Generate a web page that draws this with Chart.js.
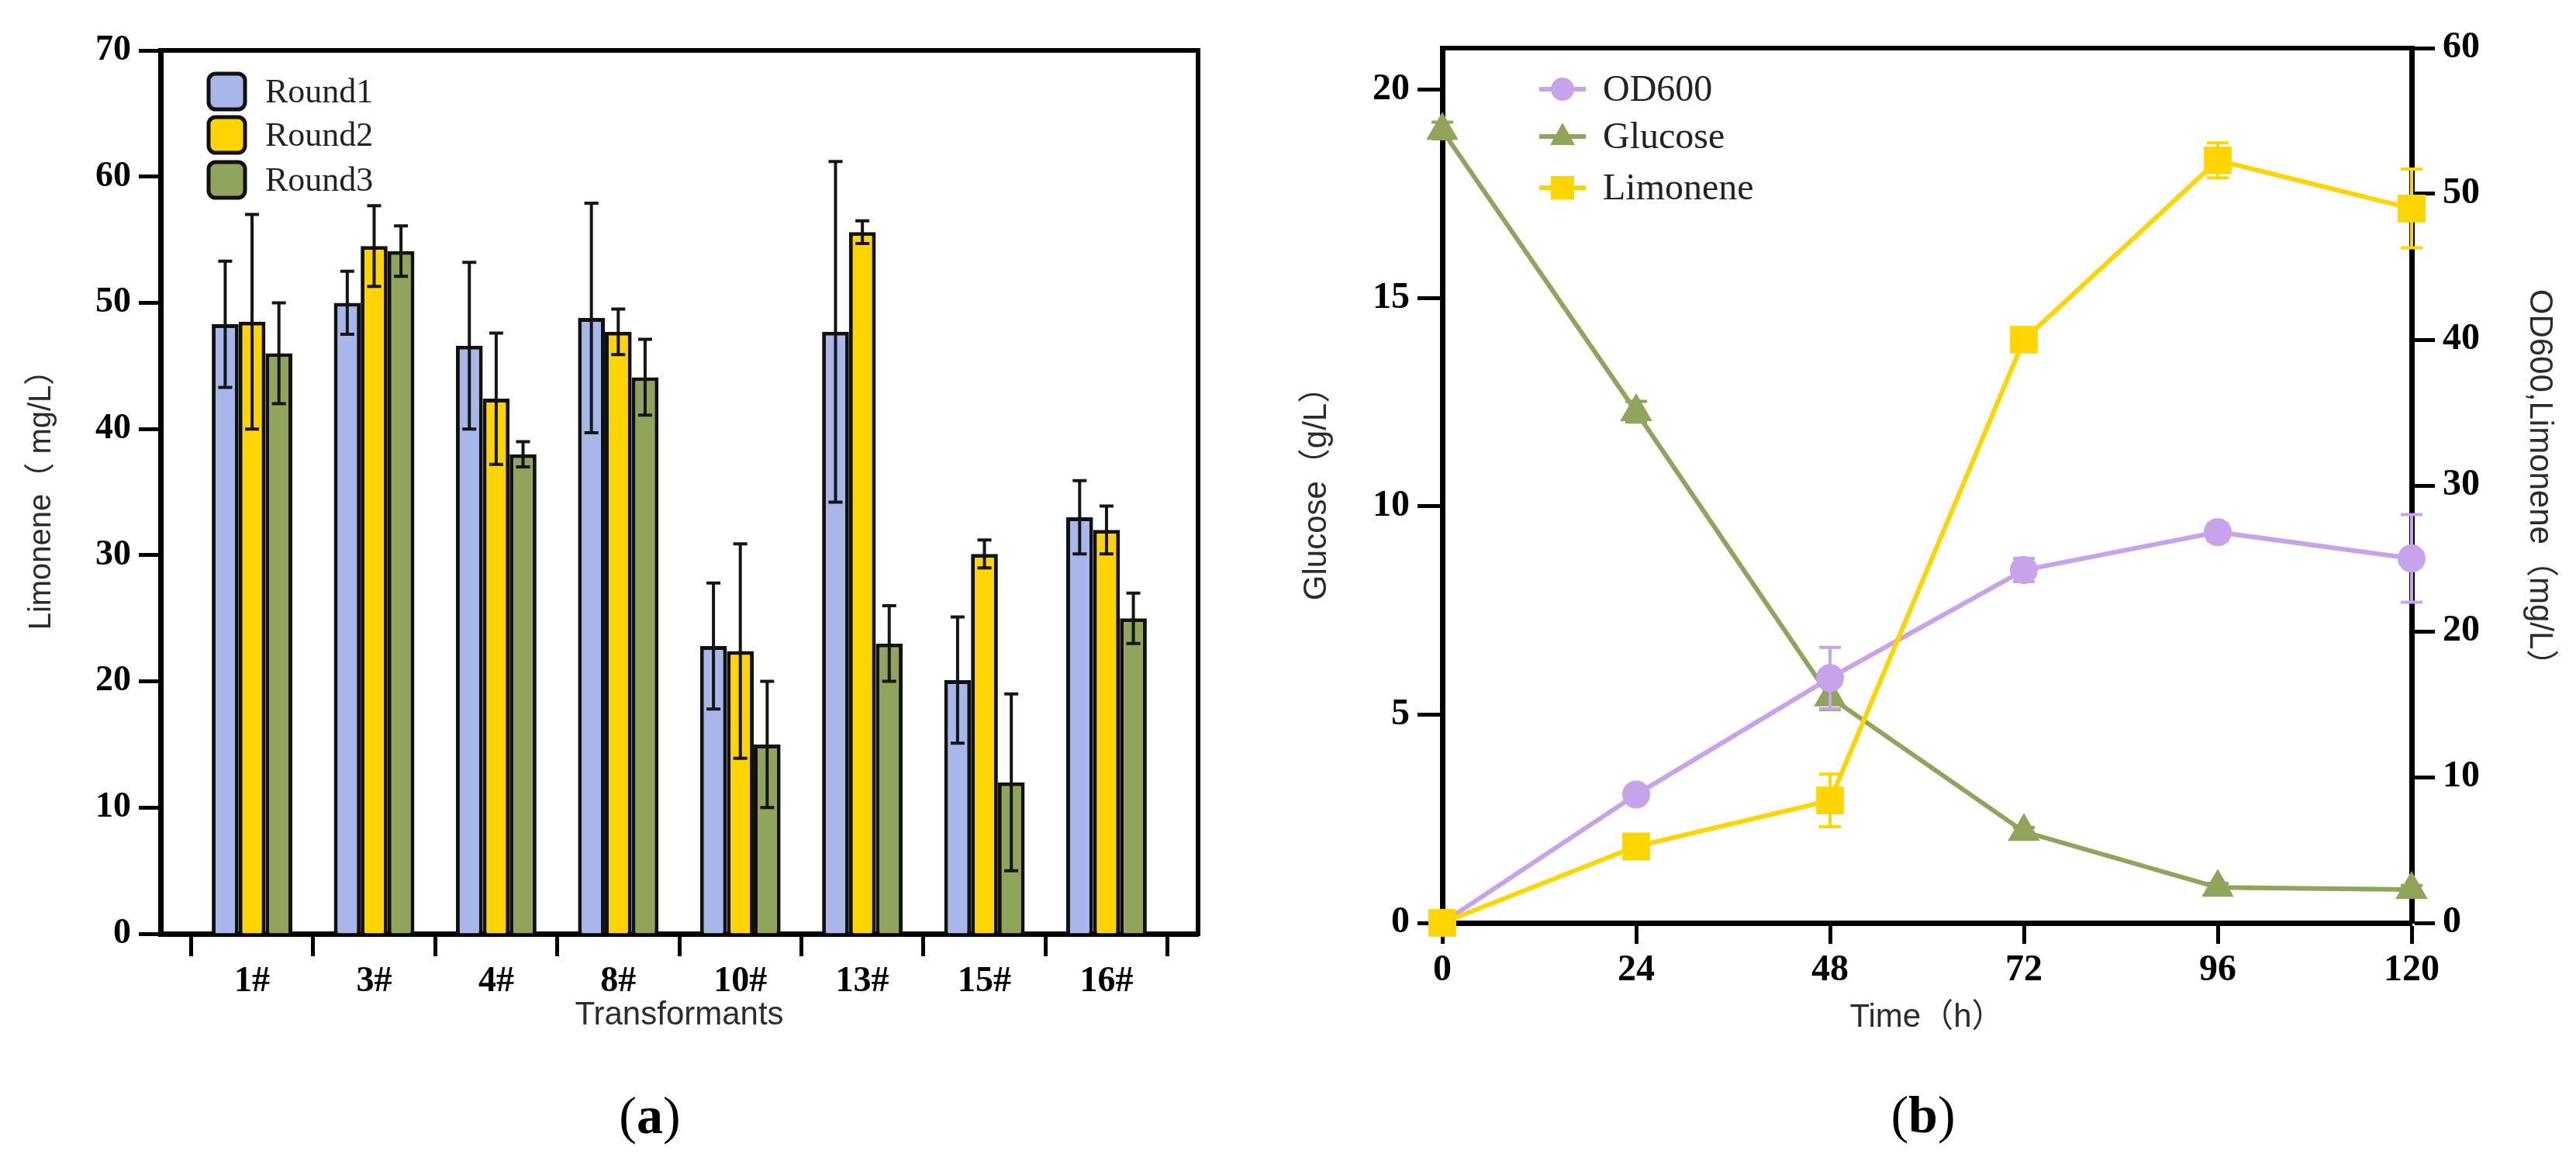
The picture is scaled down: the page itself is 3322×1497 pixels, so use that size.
<!DOCTYPE html>
<html><head><meta charset="utf-8">
<script src="https://cdn.jsdelivr.net/npm/chart.js@4.4.0/dist/chart.umd.min.js"></script>
<style>
html,body{margin:0;padding:0;background:#fff;width:3322px;height:1497px;overflow:hidden;position:relative}
canvas{position:absolute;top:0}
#c1{left:0}
#c2{left:1600px}
.lab{position:absolute;font-family:'Liberation Serif','Times New Roman',serif;font-size:68px;color:#000;transform:translate(-50%,-50%);line-height:1;white-space:nowrap}
</style></head><body>
<canvas id="c1" width="1600" height="1497" style="width:1600px;height:1497px"></canvas>
<canvas id="c2" width="1722" height="1497" style="width:1722px;height:1497px"></canvas>
<div class="lab" style="left:838px;top:1438px">(<b>a</b>)</div>
<div class="lab" style="left:2480px;top:1437px">(<b>b</b>)</div>
<script>
// ---------- Panel (a) data ----------
const categories = ['1#', '3#', '4#', '8#', '10#', '13#', '15#', '16#'];
const seriesNames = ['Round1', 'Round2', 'Round3'];
const round1 = [48.3, 50.0, 46.6, 48.8, 22.8, 47.7, 20.1, 33.0];
const round1Err = [5.0, 2.5, 6.6, 9.1, 5.0, 13.5, 5.0, 2.9];
const round2 = [48.5, 54.5, 42.4, 47.7, 22.4, 55.6, 30.1, 32.0];
const round2Err = [8.5, 3.2, 5.2, 1.8, 8.5, 0.9, 1.1, 1.9];
const round3 = [46.0, 54.1, 38.0, 44.1, 15.0, 23.0, 12.0, 25.0];
const round3Err = [4.0, 2.0, 1.0, 3.0, 5.0, 3.0, 7.0, 2.0];
const yTicksA = [0, 10, 20, 30, 40, 50, 60, 70];

// ---------- Panel (b) data ----------
const hours = [0, 24, 48, 72, 96, 120];
const od600 = [0, 8.8, 16.8, 24.2, 26.8, 25.0];
const od600Err = [0.3, 0.5, 2.1, 0.8, 0.6, 3.0];
const glucose = [19.02, 12.27, 5.42, 2.19, 0.85, 0.80];
const glucoseErr = [0.2, 0.25, 0.3, 0.1, 0.1, 0.1];
const limonene = [0, 5.25, 8.4, 40.0, 52.3, 49.0];
const limoneneErr = [0.3, 0.4, 1.8, 0.8, 1.2, 2.7];
const lineNames = ['OD600', 'Glucose', 'Limonene'];
const glucoseTicks = [0, 5, 10, 15, 20];
const rightTicks = [0, 10, 20, 30, 40, 50, 60];

const SERIF = "'Liberation Serif','Times New Roman',serif";
const SANS = "'Liberation Sans',Arial,'Noto Sans CJK SC',sans-serif";
const barColors = ['#A7B7EA', '#FFD400', '#91A45C'];
const lineColors = ['#C6A3EA', '#8FA55C', '#FFD500'];
const TITLE_COLOR = '#2c2c2c';

// ---------- Panel (a) ----------
function bandTicks(n) {
  const t = [];
  for (let i = 0; i < n; i++) { t.push(i - 0.5); t.push(i); }
  t.push(n - 0.5);
  return t;
}

const errorBarsA = {
  id: 'errorBarsA',
  afterDatasetsDraw(chart) {
    const ctx = chart.ctx, ys = chart.scales.y;
    ctx.save();
    ctx.strokeStyle = '#151515';
    ctx.lineWidth = 4;
    chart.data.datasets.forEach((ds, d) => {
      const meta = chart.getDatasetMeta(d);
      meta.data.forEach((el, j) => {
        const v = ds.data[j].y, e = ds.errors[j];
        const x = el.x, hi = ys.getPixelForValue(v + e), lo = ys.getPixelForValue(v - e);
        ctx.beginPath();
        ctx.moveTo(x, hi); ctx.lineTo(x, lo);
        ctx.moveTo(x - 9, hi); ctx.lineTo(x + 9, hi);
        ctx.moveTo(x - 9, lo); ctx.lineTo(x + 9, lo);
        ctx.stroke();
      });
    });
    ctx.restore();
  }
};

const frameA = {
  id: 'frameA',
  afterDraw(chart) {
    const {ctx, chartArea: a} = chart;
    ctx.save();
    ctx.strokeStyle = '#000';
    ctx.lineWidth = 6;
    ctx.beginPath();
    ctx.moveTo(a.left - 3, a.top); ctx.lineTo(a.right, a.top); ctx.lineTo(a.right, a.bottom + 3);
    ctx.stroke();
    // legend
    const rows = [118, 174, 232];
    chart.data.datasets.forEach((ds, i) => {
      const cy = rows[i];
      ctx.beginPath();
      ctx.roundRect(269, cy - 23, 47, 46, 9);
      ctx.fillStyle = ds.backgroundColor;
      ctx.fill();
      ctx.lineWidth = 5;
      ctx.strokeStyle = '#111';
      ctx.stroke();
      ctx.fillStyle = '#222';
      ctx.font = '44px ' + SERIF;
      ctx.textBaseline = 'middle';
      ctx.textAlign = 'left';
      ctx.fillText(ds.label, 342, cy + 2);
    });
    ctx.restore();
  }
};

const seriesA = [round1, round2, round3];
const errsA = [round1Err, round2Err, round3Err];

new Chart(document.getElementById('c1'), {
  type: 'bar',
  data: {
    datasets: seriesA.map((s, k) => ({
      label: seriesNames[k],
      data: s.map((y, i) => ({x: i, y})),
      errors: errsA[k],
      backgroundColor: barColors[k],
      borderColor: '#111',
      borderWidth: 5,
      categoryPercentage: 1.32,
      barPercentage: 1.0
    }))
  },
  options: {
    responsive: false,
    animation: false,
    layout: {padding: {left: 30, right: 55, top: 65, bottom: 162}},
    plugins: {legend: {display: false}, tooltip: {enabled: false}},
    scales: {
      x: {
        type: 'linear', min: -0.75, max: categories.length - 0.25, offset: false,
        afterBuildTicks(s) { s.ticks = bandTicks(categories.length).map(v => ({value: v})); },
        afterFit(s) { s.height = 131; },
        ticks: {
          autoSkip: false, maxRotation: 0, padding: 6, color: '#000',
          font: {family: SERIF, size: 46, weight: 'bold'},
          callback: v => Number.isInteger(v) ? categories[v] : ''
        },
        grid: {
          offset: false, drawOnChartArea: false, drawTicks: true, tickLength: 29, tickWidth: 5,
          tickColor: c => (c.tick && Number.isInteger(c.tick.value)) ? 'rgba(0,0,0,0)' : '#000'
        },
        border: {display: true, color: '#000', width: 7},
        title: {display: true, text: 'Transformants', color: TITLE_COLOR, padding: 0, font: {family: SANS, size: 42}}
      },
      y: {
        min: 0, max: 70,
        afterBuildTicks(s) { s.ticks = yTicksA.map(v => ({value: v})); },
        afterFit(s) { s.width = 177; },
        ticks: {padding: 10, color: '#000', font: {family: SERIF, size: 46, weight: 'bold'}},
        grid: {drawOnChartArea: false, drawTicks: true, tickLength: 28, tickWidth: 5, tickColor: '#000'},
        border: {display: true, color: '#000', width: 7},
        title: {display: true, text: 'Limonene（ mg/L）', color: TITLE_COLOR, padding: 0, font: {family: SANS, size: 40}}
      }
    }
  },
  plugins: [errorBarsA, frameA]
});

// ---------- Panel (b) ----------
function drawMarker(ctx, style, x, y, color) {
  ctx.fillStyle = color;
  ctx.beginPath();
  if (style === 'circle') {
    ctx.arc(x, y, 15, 0, Math.PI * 2);
  } else if (style === 'triangle') {
    ctx.moveTo(x, y - 18); ctx.lineTo(x + 16, y + 11); ctx.lineTo(x - 16, y + 11); ctx.closePath();
  } else {
    ctx.rect(x - 15, y - 15, 30, 30);
  }
  ctx.fill();
}

const errorBarsB = {
  id: 'errorBarsB',
  afterDatasetDraw(chart, args) {
    const ds = chart.data.datasets[args.index];
    const sc = chart.scales[ds.yAxisID];
    const ctx = chart.ctx;
    ctx.save();
    ctx.strokeStyle = ds.borderColor;
    ctx.lineWidth = 4;
    args.meta.data.forEach((el, j) => {
      const v = ds.data[j].y, e = ds.errors[j];
      if (!e) return;
      const x = el.x, hi = sc.getPixelForValue(v + e), lo = sc.getPixelForValue(v - e);
      ctx.beginPath();
      ctx.moveTo(x, hi); ctx.lineTo(x, lo);
      ctx.moveTo(x - 14, hi); ctx.lineTo(x + 14, hi);
      ctx.moveTo(x - 14, lo); ctx.lineTo(x + 14, lo);
      ctx.stroke();
    });
    ctx.restore();
  }
};

const frameB = {
  id: 'frameB',
  afterDraw(chart) {
    const {ctx, chartArea: a} = chart;
    ctx.save();
    ctx.strokeStyle = '#000';
    ctx.lineWidth = 6;
    ctx.beginPath();
    ctx.moveTo(a.left - 3, a.top); ctx.lineTo(a.right + 3, a.top);
    ctx.stroke();
    const rows = [115, 176, 242];
    const styles = ['circle', 'triangle', 'rect'];
    lineNames.forEach((name, i) => {
      const cy = rows[i];
      ctx.strokeStyle = lineColors[i];
      ctx.lineWidth = 6;
      ctx.beginPath(); ctx.moveTo(385, cy); ctx.lineTo(445, cy); ctx.stroke();
      drawMarker(ctx, styles[i], 415, cy, lineColors[i]);
      ctx.fillStyle = '#222';
      ctx.font = '48px ' + SERIF;
      ctx.textBaseline = 'middle';
      ctx.textAlign = 'left';
      ctx.fillText(name, 467, cy + 2);
    });
    ctx.restore();
  }
};

const lineSeries = [
  {vals: od600, errs: od600Err, axis: 'y1', style: 'circle', radius: 15, order: 1},
  {vals: glucose, errs: glucoseErr, axis: 'y', style: 'triangle', radius: 18, order: 2},
  {vals: limonene, errs: limoneneErr, axis: 'y1', style: 'rect', radius: 21, order: 0}
];

new Chart(document.getElementById('c2'), {
  type: 'line',
  data: {
    datasets: lineSeries.map((s, k) => ({
      label: lineNames[k],
      data: s.vals.map((y, i) => ({x: hours[i], y})),
      errors: s.errs,
      yAxisID: s.axis,
      borderColor: lineColors[k],
      backgroundColor: lineColors[k],
      pointBackgroundColor: lineColors[k],
      pointBorderColor: lineColors[k],
      pointStyle: s.style,
      pointRadius: s.radius,
      borderWidth: 6,
      tension: 0,
      clip: false,
      order: s.order
    }))
  },
  options: {
    responsive: false,
    animation: false,
    layout: {padding: {left: 73, right: 22, top: 62, bottom: 159}},
    plugins: {legend: {display: false}, tooltip: {enabled: false}},
    scales: {
      x: {
        type: 'linear', min: 0, max: 120,
        afterBuildTicks(s) { s.ticks = hours.map(v => ({value: v})); },
        afterFit(s) { s.height = 148; },
        ticks: {padding: 6, color: '#000', font: {family: SERIF, size: 48, weight: 'bold'}},
        grid: {drawOnChartArea: false, drawTicks: true, tickLength: 27, tickWidth: 5, tickColor: '#000'},
        border: {display: true, color: '#000', width: 7},
        title: {display: true, text: 'Time（h）', color: TITLE_COLOR, padding: 0, font: {family: SANS, size: 42}}
      },
      y: {
        position: 'left', min: 0, max: 21,
        afterBuildTicks(s) { s.ticks = glucoseTicks.map(v => ({value: v})); },
        afterFit(s) { s.width = 187; },
        ticks: {padding: 10, color: '#000', font: {family: SERIF, size: 48, weight: 'bold'}},
        grid: {drawOnChartArea: false, drawTicks: true, tickLength: 32, tickWidth: 5, tickColor: '#000'},
        border: {display: true, color: '#000', width: 7},
        title: {display: true, text: 'Glucose（g/L）', color: TITLE_COLOR, padding: 0, font: {family: SANS, size: 42}}
      },
      y1: {
        position: 'right', min: 0, max: 60,
        afterBuildTicks(s) { s.ticks = rightTicks.map(v => ({value: v})); },
        afterFit(s) { s.width = 190; },
        ticks: {padding: 10, color: '#000', font: {family: SERIF, size: 48, weight: 'bold'}},
        grid: {drawOnChartArea: false, drawTicks: true, tickLength: 30, tickWidth: 5, tickColor: '#000'},
        border: {display: true, color: '#000', width: 7},
        title: {display: true, text: 'OD600,Limonene（mg/L）', color: TITLE_COLOR, padding: 0, font: {family: SANS, size: 42}}
      }
    }
  },
  plugins: [errorBarsB, frameB]
});
</script>
</body></html>
